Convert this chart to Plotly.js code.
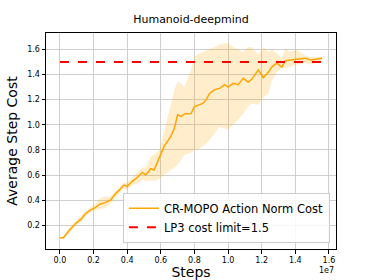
<!DOCTYPE html>
<html>
<head>
<meta charset="utf-8">
<script src="https://cdn.plot.ly/plotly-3.0.1.min.js"></script>
<style>html,body{margin:0;padding:0;background:#fff;}#chart{width:374px;height:280px;}</style>
</head>
<body>
<div id="chart"></div>
<script>
// Steps (in units of 1e7)
const steps = [0.00,0.02,0.05,0.09,0.13,0.15,0.18,0.21,0.24,0.27,0.30,0.33,0.36,0.38,0.40,0.43,0.46,0.49,0.51,0.54,0.56,0.59,0.62,0.66,0.68,0.70,0.72,0.74,0.78,0.80,0.83,0.85,0.87,0.89,0.92,0.95,0.98,1.00,1.03,1.06,1.09,1.12,1.14,1.18,1.21,1.24,1.26,1.29,1.32,1.34,1.37,1.41,1.46,1.49,1.52,1.56];
const meanCost = [0.10,0.10,0.15,0.21,0.255,0.29,0.32,0.34,0.37,0.38,0.40,0.45,0.49,0.52,0.51,0.55,0.58,0.62,0.60,0.65,0.64,0.73,0.83,0.91,0.97,1.08,1.065,1.086,1.09,1.145,1.16,1.17,1.20,1.25,1.28,1.29,1.32,1.30,1.33,1.32,1.37,1.34,1.36,1.437,1.375,1.42,1.46,1.49,1.46,1.51,1.516,1.52,1.53,1.516,1.52,1.53];
const upperCost = [0.10,0.11,0.17,0.23,0.28,0.31,0.34,0.37,0.42,0.43,0.43,0.47,0.51,0.54,0.54,0.58,0.62,0.66,0.66,0.75,0.76,0.80,0.95,1.17,1.28,1.34,1.33,1.30,1.44,1.54,1.57,1.58,1.59,1.60,1.62,1.64,1.65,1.65,1.62,1.60,1.58,1.62,1.62,1.556,1.62,1.58,1.60,1.57,1.53,1.61,1.58,1.60,1.55,1.54,1.54,1.54];
const lowerCost = [0.09,0.09,0.13,0.19,0.23,0.27,0.30,0.32,0.33,0.34,0.37,0.42,0.46,0.49,0.48,0.52,0.53,0.56,0.55,0.56,0.55,0.57,0.60,0.64,0.66,0.68,0.72,0.76,0.78,0.80,0.81,0.83,0.85,0.88,0.93,0.985,0.97,0.96,1.00,1.04,1.09,1.145,1.17,1.16,1.22,1.25,1.35,1.42,1.45,1.45,1.46,1.48,1.49,1.48,1.49,1.50];
const limitSteps = [0.0, 1.58];
const limitCost = [1.5, 1.5];
const xTicks = [0.0,0.2,0.4,0.6,0.8,1.0,1.2,1.4,1.6];
const yTicks = [0.2,0.4,0.6,0.8,1.0,1.2,1.4,1.6];
const seriesName = "CR-MOPO Action Norm Cost";
const limitName = "LP3 cost limit=1.5";

const font = "DejaVu Sans, sans-serif";
const traces = [
  {x: steps, y: lowerCost, mode: "lines", line: {width: 0, color: "rgba(255,165,0,0)"}, showlegend: false, hoverinfo: "skip"},
  {x: steps, y: upperCost, mode: "lines", fill: "tonexty", fillcolor: "rgba(255,165,0,0.2)", line: {width: 0, color: "rgba(255,165,0,0)"}, showlegend: false, hoverinfo: "skip"},
  {x: steps, y: meanCost, mode: "lines", name: seriesName, line: {color: "#FFA500", width: 1.5}},
  {x: limitSteps, y: limitCost, mode: "lines", name: limitName, line: {color: "#FF0000", width: 2, dash: "dash"}}
];
const axisCommon = {
  showline: true, mirror: true, linecolor: "#000", linewidth: 1,
  showgrid: true, gridcolor: "#cfcfcf", gridwidth: 1,
  ticks: "outside", ticklen: 3.5, tickcolor: "#000", tickwidth: 1,
  tickfont: {family: font, size: 8, color: "#000"},
  zeroline: false, tickformat: ".1f"
};
const layout = {
  width: 374, height: 280,
  margin: {l: 46, r: 38, t: 33, b: 31},
  paper_bgcolor: "#fff", plot_bgcolor: "#fff",
  title: {text: "Humanoid-deepmind", font: {family: font, size: 11, color: "#000"}, x: 0.5107, xanchor: "center", y: 0.93, yanchor: "middle"},
  xaxis: Object.assign({}, axisCommon, {range: [-0.083, 1.642], tickmode: "array", tickvals: xTicks,
    title: {text: "Steps", font: {family: font, size: 14, color: "#000"}, standoff: 2}}),
  yaxis: Object.assign({}, axisCommon, {range: [0.011, 1.731], tickmode: "array", tickvals: yTicks,
    title: {text: "Average Step Cost", font: {family: font, size: 14, color: "#000"}, standoff: 6}}),
  legend: {x: 0.979, y: 0.029, xanchor: "right", yanchor: "bottom", bgcolor: "rgba(255,255,255,0.85)",
    bordercolor: "#cccccc", borderwidth: 1, font: {family: font, size: 11.5, color: "#000"}, tracegroupgap: 0,
    traceorder: "normal"},
  annotations: [{text: "1e7", xref: "paper", yref: "paper", x: 1.0, y: -0.1, xanchor: "right", yanchor: "middle",
    showarrow: false, font: {family: font, size: 8, color: "#000"}}],
  showlegend: true
};
Plotly.newPlot("chart", traces, layout, {staticPlot: true, displayModeBar: false});
</script>
</body>
</html>
